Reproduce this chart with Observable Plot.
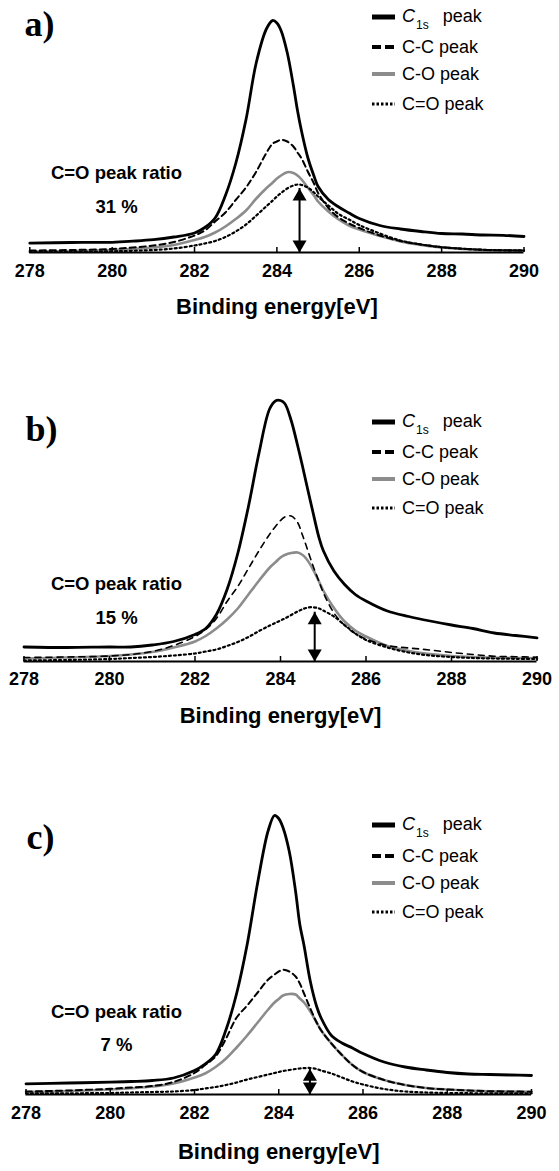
<!DOCTYPE html>
<html>
<head>
<meta charset="utf-8">
<script src="https://cdn.jsdelivr.net/npm/d3@7"></script>
<script src="https://cdn.jsdelivr.net/npm/@observablehq/plot@0.6"></script>
<style>
  body { margin: 0; background: #fff; }
  #fig { position: relative; width: 559px; height: 1171px; background: #fff; font-family: "Liberation Sans", Arial, sans-serif; }
  .panel { position: absolute; left: 0; width: 559px; }
  .panel svg { display: block; }
  .legend { position: absolute; left: 372px; top: 0; font-size: 18px; color: #000; }
  .row { position: absolute; left: 0; height: 22px; display: flex; align-items: center; white-space: nowrap; line-height: 22px; }
  .row svg { margin-right: 6px; }
  .sub { font-size: 12px; position: relative; top: 7px; margin-left: 1px; }
</style>
</head>
<body>
<div id="fig"></div>
<script>
// ---------- data ----------
const energy = [278, 279, 280, 280.5, 281, 281.5, 282, 282.25, 282.5, 282.75, 283, 283.25, 283.5, 283.75, 283.9,
                284, 284.1, 284.25, 284.4, 284.5, 284.6, 284.75, 284.9, 285, 285.25, 285.5, 285.75,
                286, 286.5, 287, 287.5, 288, 288.5, 289, 289.5, 290];
const xTicks = [278, 280, 282, 284, 286, 288, 290];
const xTitle = "Binding energy[eV]";
const panelTags = ["a)", "b)", "c)"];
const ratioTitle = "C=O peak ratio";
const ratioValues = ["31 %", "15 %", "7 %"];
const seriesNames = ["C1s peak", "C-C peak", "C-O peak", "C=O peak"];

// panel a
const c1sA = [9.3, 10, 10.2, 11.3, 12.8, 15.5, 19.5, 25, 34.5, 57, 89, 133, 190, 224, 232, 229.5, 222, 200, 167, 142, 121, 95, 76.5, 66, 53, 45.5, 39.5, 34, 27, 23.5, 21, 19, 18.5, 17.5, 17.2, 16];
const ccA  = [2, 2.5, 3.5, 5, 7, 10.5, 17, 22, 31, 40, 52.5, 65, 81, 100, 109, 111, 112.7, 111, 106, 100, 94, 81, 69, 59.5, 44.5, 35, 29, 24.5, 17, 11.5, 8, 5.3, 3.8, 2.7, 2.2, 2];
const coA  = [1, 1.5, 2.5, 3.5, 5, 7.5, 12.5, 15.5, 20, 26, 33.5, 42, 54, 64.5, 70, 74, 77, 80.3, 79.5, 77, 73, 65, 57, 51, 41, 33, 27, 23, 16.5, 11, 7.5, 5, 3.5, 2.5, 2.2, 2];
const c2oA = [0.5, 0.8, 1.2, 1.7, 2.5, 4, 7, 9, 11.5, 15.5, 21, 28, 37, 46.5, 52, 56, 59.5, 64, 67, 68, 67.5, 65, 60, 56, 47, 38.5, 33, 27.5, 19, 12, 8, 5.3, 3.8, 2.7, 2.2, 2];
// panel b
const c1sB = [14.5, 14, 14.5, 14.5, 16.5, 20, 27, 33, 47, 72, 108, 155, 209, 253, 261, 261, 258, 241, 216, 198, 179, 151, 124, 111, 90.5, 77, 67, 60.5, 50.5, 45, 40.5, 36.5, 33, 28.5, 26, 23.7];
const ccB  = [4, 4.5, 5.5, 7, 10, 16, 25, 32, 43, 60, 75, 93, 111, 127.5, 136, 141, 144.5, 145.5, 139, 128, 116, 97, 80, 69, 48.5, 36, 28, 22.5, 16, 13.5, 11.5, 9, 7, 5.3, 4.8, 4.3];
const coB  = [3, 4, 5.5, 7, 9.5, 14, 20, 25.5, 33, 42, 53, 67, 81, 94, 100, 104, 106.5, 108.5, 109, 107, 103, 93, 80, 71, 53.5, 40, 31, 25, 15.5, 10.5, 7.5, 5.5, 4.5, 3.8, 3.5, 3.3];
const c2oB = [1, 1.5, 2.5, 3.5, 4.5, 6, 8, 10, 12, 15.5, 19.5, 24.5, 30.5, 36, 39, 41, 43, 46.5, 50, 52, 53.5, 54.3, 53, 51, 45, 36.5, 28, 21.5, 14, 9, 6, 4.5, 3.5, 3, 2.7, 2.5];
// panel c
const c1sC = [10.7, 11.5, 12.3, 13, 14, 16.5, 24, 30.5, 40, 65, 101, 150, 212, 264, 279, 276, 267, 243, 203, 170, 149, 113, 88, 77, 59, 51.5, 46.5, 41, 32.5, 27.5, 24.5, 22, 20.5, 20, 19.5, 19];
const ccC  = [3, 4, 5.7, 7, 8.5, 12.5, 21.5, 29.5, 38, 56, 77, 89, 102, 115, 120, 123, 124.7, 123, 118, 111, 101, 86, 72, 64.5, 51, 39.5, 29.5, 22.5, 14.5, 9.5, 6.5, 5, 4, 3.3, 3, 2.7];
const coC  = [2.5, 3.5, 5, 6.3, 8, 11, 17, 21, 27.5, 36, 47, 59, 72, 85, 92, 95.5, 99, 100.5, 100, 96, 92, 83, 72, 64.5, 51, 39.5, 29.5, 22.5, 14.5, 9.5, 6.5, 5, 4, 3.3, 3, 2.7];
const c2oC = [1, 1.2, 1.5, 2, 2.5, 3, 4.5, 6, 7.5, 9.5, 12, 15, 17.5, 20, 21.5, 22.5, 23.5, 24.5, 25.5, 26, 26.3, 26.5, 25.5, 24, 21, 17, 13, 10, 5.5, 3, 2, 1.5, 1.3, 1.2, 1.1, 1];

// double arrow marking the C=O peak height: energy and height per panel
const arrowEnergy = [284.55, 284.8, 284.74];
const arrowHeight = [64, 49.3, 25.7];

const panelSeries = [[c1sA, ccA, coA, c2oA], [c1sB, ccB, coB, c2oB], [c1sC, ccC, coC, c2oC]];

// ---------- layout ----------
const layout = [
  {top: 0,   height: 340, axisY: 252, ml: 29.3, mr: 35.5, labelDy: 24, titleDy: 61, tagX: 24, tagBase: 35, ratioX: 116, ratioY: 165, pctY: 199, legendRows: [16.7, 46.7, 74, 104], dash: "6,4", dashW: 2},
  {top: 340, height: 420, axisY: 321, ml: 23.5, mr: 22.5, labelDy: 23, titleDy: 61, tagX: 25, tagBase: 100, ratioX: 116, ratioY: 236.7, pctY: 270, legendRows: [81.7, 111.7, 139.3, 167.7], dash: "6,5", dashW: 1.6},
  {top: 760, height: 411, axisY: 334, ml: 25.5, mr: 28, labelDy: 24, titleDy: 64, tagX: 26, tagBase: 88, ratioX: 116, ratioY: 244, pctY: 277.7, legendRows: [65, 96, 123, 152], dash: "6,4", dashW: 2}
];

const triDown = {
  draw(ctx, size) {
    const y = Math.sqrt(size / (3 * Math.sqrt(3)));
    ctx.moveTo(0, 2 * y);
    ctx.lineTo(-Math.sqrt(3) * y, -y);
    ctx.lineTo(Math.sqrt(3) * y, -y);
    ctx.closePath();
  }
};

const fig = document.getElementById("fig");

function legendSwatch(i) {
  const ns = "http://www.w3.org/2000/svg";
  const svg = document.createElementNS(ns, "svg");
  svg.setAttribute("width", 24);
  svg.setAttribute("height", 10);
  const line = document.createElementNS(ns, "line");
  line.setAttribute("x1", 0); line.setAttribute("x2", 23);
  line.setAttribute("y1", 5); line.setAttribute("y2", 5);
  const styles = [
    {stroke: "#000", w: 5, dash: null},
    {stroke: "#000", w: 4, dash: "9,4"},
    {stroke: "#8c8c8c", w: 4, dash: null},
    {stroke: "#000", w: 3, dash: "2.5,2"}
  ][i];
  line.setAttribute("stroke", styles.stroke);
  line.setAttribute("stroke-width", styles.w);
  if (styles.dash) line.setAttribute("stroke-dasharray", styles.dash);
  svg.appendChild(line);
  return svg;
}

panelSeries.forEach((series, k) => {
  const p = layout[k];
  const rows = energy.map((e, i) => ({e, c1s: series[0][i], cc: series[1][i], co: series[2][i], c2o: series[3][i]}));
  const arrow = [{e: arrowEnergy[k], h: arrowHeight[k]}];

  const chart = Plot.plot({
    width: 559,
    height: p.height,
    marginTop: 0,
    marginBottom: p.height - p.axisY,
    marginLeft: p.ml,
    marginRight: p.mr,
    x: {domain: [278, 290], axis: null},
    y: {domain: [0, p.axisY], axis: null},
    style: {fontFamily: "'Liberation Sans', Arial, sans-serif", background: "transparent", overflow: "visible", color: "#000"},
    marks: [
      Plot.line(rows, {x: "e", y: "co", stroke: "#8c8c8c", strokeWidth: 2.6, curve: "catmull-rom"}),
      Plot.line(rows, {x: "e", y: "cc", stroke: "#000", strokeWidth: p.dashW, strokeDasharray: p.dash, curve: "catmull-rom"}),
      Plot.line(rows, {x: "e", y: "c2o", stroke: "#000", strokeWidth: 2.2, strokeDasharray: "2,3", curve: "catmull-rom"}),
      Plot.line(rows, {x: "e", y: "c1s", stroke: "#000", strokeWidth: 2.8, curve: "catmull-rom", strokeLinejoin: "round"}),
      Plot.ruleY([0], {stroke: "#000", strokeWidth: 2}),
      Plot.axisX({ticks: xTicks, tickSize: -5, tickFormat: () => "", label: null, strokeWidth: 1.5, stroke: "#000"}),
      Plot.text(xTicks, {x: d => d, text: d => String(d), frameAnchor: "bottom", dy: p.labelDy, fontSize: 18, fontWeight: "bold", fill: "#000"}),
      Plot.text([xTitle], {text: d => d, frameAnchor: "bottom", dy: p.titleDy, fontSize: 22, fontWeight: "bold", fill: "#000"}),
      Plot.text([panelTags[k]], {text: d => d, frameAnchor: "top-left", dx: p.tagX - p.ml, dy: p.tagBase, textAnchor: "start", lineAnchor: "bottom",
        fontFamily: "'Liberation Serif', 'Times New Roman', serif", fontSize: 36, fontWeight: "bold", fill: "#000"}),
      Plot.text([ratioTitle], {text: d => d, frameAnchor: "top-left", dx: p.ratioX - p.ml, dy: p.ratioY, textAnchor: "middle", fontSize: 18.5, fontWeight: "bold", fill: "#000"}),
      Plot.text([ratioValues[k]], {text: d => d, frameAnchor: "top-left", dx: p.ratioX - p.ml, dy: p.pctY, textAnchor: "middle", fontSize: 18.5, fontWeight: "bold", fill: "#000"}),
      Plot.ruleX(arrow, {x: "e", y1: 0, y2: "h", stroke: "#000", strokeWidth: 2}),
      Plot.dot(arrow, {x: "e", y: "h", symbol: "triangle", r: 5.2, fill: "#000", stroke: null, dy: 8}),
      Plot.dot(arrow, {x: "e", y: () => 0, symbol: triDown, r: 5.2, fill: "#000", stroke: null, dy: -8})
    ]
  });

  const div = document.createElement("div");
  div.className = "panel";
  div.style.top = p.top + "px";
  div.style.height = p.height + "px";
  div.appendChild(chart);

  const legend = document.createElement("div");
  legend.className = "legend";
  seriesNames.forEach((name, i) => {
    const row = document.createElement("div");
    row.className = "row";
    row.style.top = (p.legendRows[i] - 11) + "px";
    row.appendChild(legendSwatch(i));
    const label = document.createElement("span");
    if (i === 0) {
      label.innerHTML = '<i>C</i><span class="sub">1s</span><span style="margin-left:14px">peak</span>';
    } else {
      label.textContent = name;
    }
    row.appendChild(label);
    legend.appendChild(row);
  });
  div.appendChild(legend);
  fig.appendChild(div);
});
</script>
</body>
</html>
